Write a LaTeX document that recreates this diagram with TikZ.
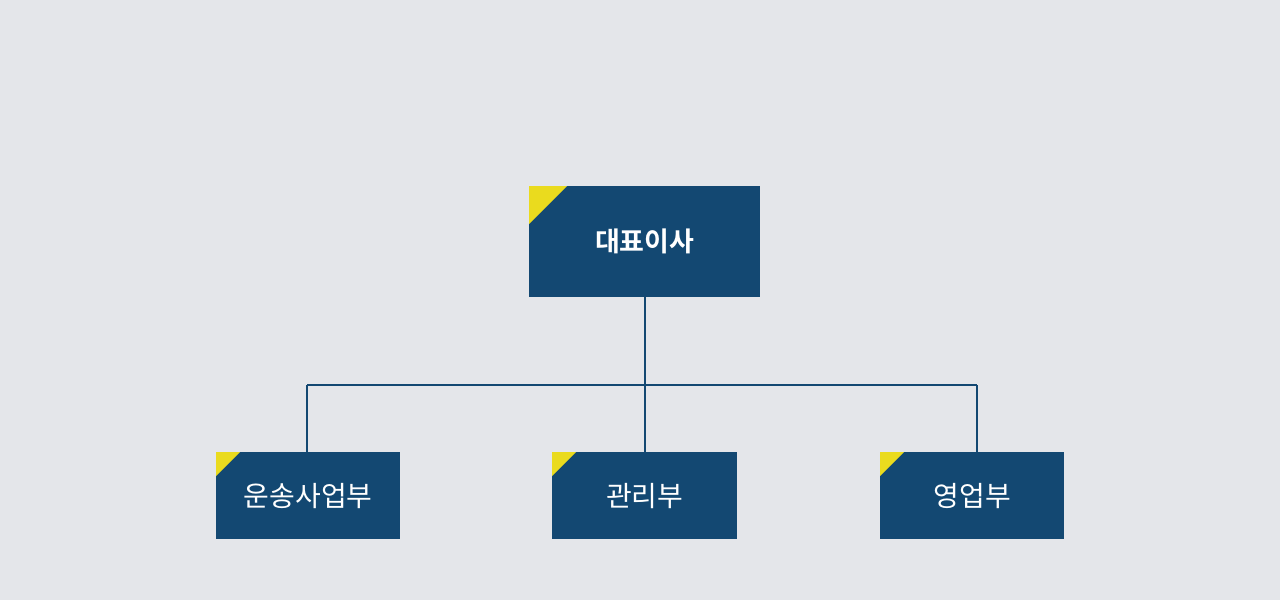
\documentclass[tikz,border=0pt]{standalone}
\usepackage{fontspec}
\newfontfamily\kr{Noto Sans CJK KR}
\newfontfamily\krb{Noto Sans CJK KR Bold}
\definecolor{navy}{HTML}{134872}
\definecolor{ylw}{HTML}{EADB1E}
\definecolor{bg}{HTML}{E4E6EA}
\begin{document}
\begin{tikzpicture}[x=1pt,y=-1pt,
  box/.style={fill=navy,text=white,inner sep=0pt,anchor=north west},
  conn/.style={draw=navy,line width=2pt}]
\fill[bg] (0,0) rectangle (1280,600);
\useasboundingbox (0,0) rectangle (1280,600);
\node[box,minimum width=231pt,minimum height=111pt,font=\krb\fontsize{27}{30}\selectfont] (ceo) at (529,186) {대표이사};
\fill[ylw] (ceo.north west) -- ++(38,0) -- ++(-38,38) -- cycle;
\node[box,minimum width=184pt,minimum height=87pt,font=\kr\fontsize{28}{30}\selectfont] (a) at (216,452) {운송사업부};
\node[box,minimum width=185pt,minimum height=87pt,font=\kr\fontsize{28}{30}\selectfont] (b) at (552,452) {관리부};
\node[box,minimum width=184pt,minimum height=87pt,font=\kr\fontsize{28}{30}\selectfont] (c) at (880,452) {영업부};
\foreach \n in {a,b,c}{\fill[ylw] (\n.north west) -- ++(24,0) -- ++(-24,24) -- cycle;}
\coordinate (j) at (645,385);
\draw[conn] (ceo.south -| j) -- (j);
\draw[conn] (307,385) -- (977,385);
\draw[conn] (307,385) -- (307,452);
\draw[conn] (j) -- (b.north -| j);
\draw[conn] (977,385) -- (977,452);
\end{tikzpicture}
\end{document}
